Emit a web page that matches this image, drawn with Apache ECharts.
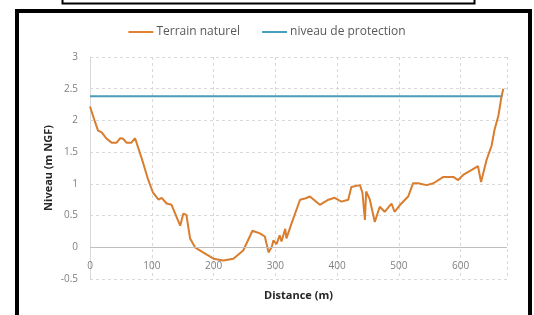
<!DOCTYPE html>
<html>
<head>
<meta charset="utf-8">
<script src="https://cdn.jsdelivr.net/npm/echarts@6/dist/echarts.min.js"></script>
<style>
  html, body { margin: 0; padding: 0; background: #fff; }
  #chart { width: 534px; height: 315px; }
</style>
</head>
<body>
<div id="chart"></div>
<script>
var distance = [0, 8, 13, 19, 27, 35, 43, 49, 54, 59, 67, 73, 78, 86, 94, 102, 111, 116, 124, 132, 146, 151, 156, 162, 170, 183, 200, 216, 232, 248, 263, 275, 283, 289, 294, 297, 302, 307, 310, 316, 318, 326, 340, 348, 356, 372, 386, 396, 407, 418, 423, 437, 441, 445, 447, 453, 461, 469, 477, 488, 493, 502, 515, 523, 531, 545, 556, 572, 588, 596, 604, 618, 628, 633, 642, 650, 655, 661, 666, 669];
var terrain = [2.22, 1.98, 1.84, 1.81, 1.71, 1.65, 1.65, 1.72, 1.71, 1.65, 1.65, 1.72, 1.57, 1.33, 1.07, 0.86, 0.75, 0.78, 0.69, 0.67, 0.34, 0.53, 0.51, 0.14, 0.0, -0.08, -0.18, -0.21, -0.18, -0.05, 0.26, 0.22, 0.17, -0.08, 0.0, 0.11, 0.05, 0.19, 0.09, 0.29, 0.14, 0.37, 0.75, 0.77, 0.8, 0.67, 0.75, 0.78, 0.72, 0.75, 0.95, 0.98, 0.86, 0.43, 0.88, 0.75, 0.4, 0.64, 0.56, 0.69, 0.56, 0.67, 0.8, 1.01, 1.01, 0.98, 1.01, 1.11, 1.11, 1.06, 1.14, 1.22, 1.28, 1.03, 1.38, 1.6, 1.86, 2.07, 2.37, 2.5];
var protectionX = [0, 668];
var protection = [2.38, 2.38];

var terrainData = distance.map(function (d, i) { return [d, terrain[i]]; });
var protectionData = protectionX.map(function (d, i) { return [d, protection[i]]; });

var chart = echarts.init(document.getElementById('chart'));
var gridLine = { show: true, lineStyle: { color: '#d9d9d9', type: [3, 3], width: 1 } };

chart.setOption({
  animation: false,
  textStyle: { fontFamily: 'Open Sans' },
  legend: {
    top: 21,
    left: 'center',
    itemWidth: 25,
    itemHeight: 2,
    itemGap: 22,
    icon: 'rect',
    textStyle: { color: '#595959', fontSize: 12, fontFamily: 'Open Sans', padding: [0, 0, 0, -2] },
    data: ['Terrain naturel', 'niveau de protection']
  },
  grid: { left: 90, right: 27, top: 57, bottom: 36, outerBoundsMode: 'none' },
  xAxis: {
    type: 'value',
    min: 0,
    max: 675,
    interval: 100,
    name: 'Distance (m)',
    nameLocation: 'middle',
    nameGap: 11,
    nameMoveOverlap: false,
    nameTextStyle: { color: '#262626', fontSize: 11, fontWeight: 'bold' },
    axisLine: { show: false, onZero: false },
    axisTick: { show: false },
    axisLabel: { color: '#7f7f7f', fontSize: 10, margin: -18, showMaxLabel: false },
    splitLine: gridLine
  },
  yAxis: {
    type: 'value',
    min: -0.5,
    max: 3,
    interval: 0.5,
    name: 'Niveau (m NGF)',
    nameLocation: 'middle',
    nameGap: 36,
    nameMoveOverlap: false,
    nameTextStyle: { color: '#262626', fontSize: 11, fontWeight: 'bold' },
    axisLine: { show: true, lineStyle: { color: '#d9d9d9' } },
    axisTick: { show: false },
    axisLabel: { color: '#7f7f7f', fontSize: 10, margin: 12 },
    splitLine: gridLine
  },
  series: [
    {
      name: 'Terrain naturel',
      type: 'line',
      data: terrainData,
      showSymbol: false,
      symbol: 'none',
      color: '#e0822f',
      lineStyle: { width: 2, color: '#d97d2e' },
      z: 3,
      markLine: {
        silent: true,
        symbol: 'none',
        label: { show: false },
        lineStyle: { color: '#bfbfbf', type: 'solid', width: 1 },
        data: [{ yAxis: 0 }]
      }
    },
    {
      name: 'niveau de protection',
      type: 'line',
      data: protectionData,
      showSymbol: false,
      symbol: 'none',
      color: '#4a9cbc',
      lineStyle: { width: 2, color: '#4a9cbc' },
      z: 2
    }
  ],
  graphic: [
    {
      type: 'rect',
      shape: { x: 17, y: 11, width: 513, height: 320 },
      style: { fill: 'none', stroke: '#000', lineWidth: 4 },
      silent: true
    },
    {
      type: 'rect',
      shape: { x: 62.5, y: -20, width: 412, height: 23.5 },
      style: { fill: 'none', stroke: '#000', lineWidth: 2 },
      silent: true
    }
  ]
});
</script>
</body>
</html>
